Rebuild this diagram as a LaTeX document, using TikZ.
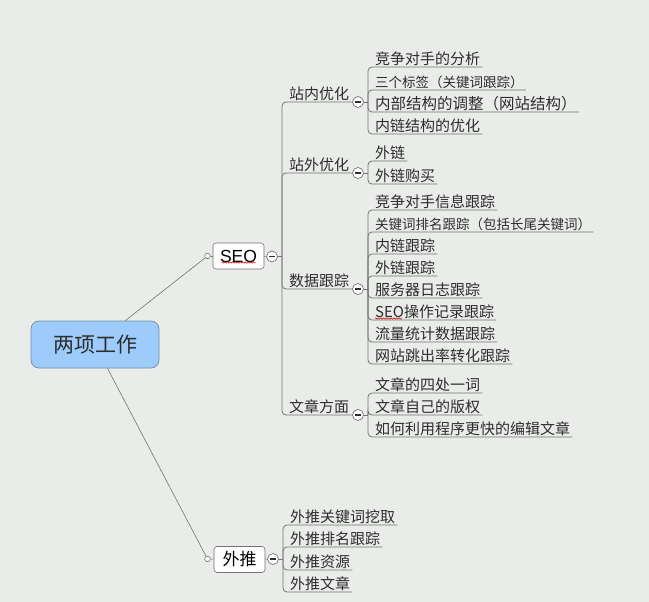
\documentclass[tikz,border=0pt]{standalone}
\usepackage{fontspec}
\setmainfont{Liberation Sans}
\newfontfamily\cjk{Noto Sans CJK SC}
\usetikzlibrary{calc,decorations.pathmorphing}
\definecolor{bg}{RGB}{233,236,233}
\definecolor{linec}{RGB}{115,115,115}
\definecolor{txt}{RGB}{45,45,45}
\definecolor{rootfill}{RGB}{157,204,250}
\definecolor{rootdraw}{RGB}{115,140,165}
\begin{document}
\begin{tikzpicture}[x=1pt,y=-1pt,
  conn/.style={draw=linec, line width=0.6pt},
  branch/.style={draw=linec, line width=0.8pt, rounded corners=4pt},
  leaf/.style={anchor=south west, inner xsep=2pt, inner ysep=2pt, text depth=0pt, font=\cjk\fontsize{15}{15}\selectfont, text=txt},
  small/.style={font=\cjk\fontsize{13.5}{13.5}\selectfont},
  minus/.style={circle, draw=linec, fill=white, minimum size=11pt, inner sep=0pt, line width=0.7pt,
    path picture={\draw[line width=1.5pt, txt] ([xshift=-2.7pt]path picture bounding box.center) -- ([xshift=2.7pt]path picture bounding box.center);}},
  dot/.style={circle, draw=linec, fill=white, minimum size=5.5pt, inner sep=0pt, line width=0.6pt},
  mainbox/.style={draw=linec, fill=white, rounded corners=3pt, minimum width=51pt, minimum height=26pt, inner sep=0pt, text=black, line width=0.6pt},
  rootbox/.style={draw=rootdraw, fill=rootfill, rounded corners=8pt, minimum width=128pt, minimum height=47pt, inner sep=0pt, font=\cjk\fontsize{21}{21}\selectfont, text=txt, line width=0.7pt},
  wavy/.style={draw=red!85!black, line width=0.5pt, decorate, decoration={snake, amplitude=0.7pt, segment length=2.6pt}},
]
\fill[bg] (0,0) rectangle (649,602);
\useasboundingbox (0,0) rectangle (649,602);

% root and main topics
\node[rootbox] (root) at (95,344.5) {两项工作};
\node[dot] (d1) at (207.5,256) {};
\node[mainbox, font=\fontsize{17.5}{17.5}\selectfont] (seo) at (238.5,256) {SEO};
\node[minus] (m0) at (272,256.5) {};
\coordinate (t0) at (282,256.5);
\node[dot] (d2) at (207.5,559) {};
\node[mainbox, font=\cjk\fontsize{17}{17}\selectfont] (wt) at (239.5,559.5) {外推};
\node[minus] (m5) at (273,559) {};
\coordinate (t5) at (283,559);

\draw[conn] (root) -- (d1);
\draw[conn] (root) -- (d2);
\draw[conn] (d1) -- (seo);
\draw[conn] (d2) -- (wt);
\draw[conn] (seo) -- (m0);
\draw[conn] (m0) -- (t0);
\draw[conn] (wt) -- (m5);
\draw[conn] (m5) -- (t5);

% level 2
\node[minus] (m1) at (358,102) {};
\node[leaf] (l1) at (287,102) {站内优化};
\node[minus] (m2) at (358,173) {};
\node[leaf] (l2) at (287,173) {站外优化};
\node[minus] (m3) at (358,289) {};
\node[leaf] (l3) at (287,289) {数据跟踪};
\node[minus] (m4) at (358,415) {};
\node[leaf] (l4) at (287,415) {文章方面};
\draw[branch] (t0) |- (m1.west);
\draw[branch] (t0) |- (m2.west);
\draw[branch] (t0) |- (m3.west);
\draw[branch] (t0) |- (m4.west);
\coordinate (t1) at (368,102);
\coordinate (t2) at (368,173);
\coordinate (t3) at (368,289);
\coordinate (t4) at (368,415);
\draw[conn] (m1) -- (t1);
\draw[conn] (m2) -- (t2);
\draw[conn] (m3) -- (t3);
\draw[conn] (m4) -- (t4);

% 站内优化
\node[leaf] (a1) at (373,67) {竞争对手的分析};
\node[leaf, small] (a2) at (373,90) {三个标签（关键词跟踪）};
\node[leaf, font=\cjk\fontsize{15.5}{15.5}\selectfont] (a3) at (373,112) {内部结构的调整（网站结构）};
\node[leaf] (a4) at (373,134) {内链结构的优化};
\foreach \n in {a1,a2,a3,a4} \draw[branch] (t1) |- (\n.south east);

% 站外优化
\node[leaf] (b1) at (373,161) {外链};
\node[leaf] (b2) at (373,184) {外链购买};
\foreach \n in {b1,b2} \draw[branch] (t2) |- (\n.south east);

% 数据跟踪
\node[leaf] (c1) at (373,210) {竞争对手信息跟踪};
\node[leaf, small] (c2) at (373,232) {关键词排名跟踪（包括长尾关键词）};
\node[leaf] (c3) at (373,254) {内链跟踪};
\node[leaf] (c4) at (373,276) {外链跟踪};
\node[leaf] (c5) at (373,298) {服务器日志跟踪};
\node[leaf] (c6) at (373,320) {SEO操作记录跟踪};
\node[leaf] (c7) at (373,342) {流量统计数据跟踪};
\node[leaf] (c8) at (373,364) {网站跳出率转化跟踪};
\foreach \n in {c1,c2,c3,c4,c5,c6,c7,c8} \draw[branch] (t3) |- (\n.south east);

% 文章方面
\node[leaf] (e1) at (373,393) {文章的四处一词};
\node[leaf] (e2) at (373,415) {文章自己的版权};
\node[leaf] (e3) at (373,437) {如何利用程序更快的编辑文章};
\foreach \n in {e1,e2,e3} \draw[branch] (t4) |- (\n.south east);

% 外推
\node[leaf] (f1) at (288,525) {外推关键词挖取};
\node[leaf] (f2) at (288,547) {外推排名跟踪};
\node[leaf] (f3) at (288,570) {外推资源};
\node[leaf] (f4) at (288,592) {外推文章};
\foreach \n in {f1,f2,f3,f4} \draw[branch] (t5) |- (\n.south east);

% spell-check marks
\draw[wavy] ([xshift=-17pt,yshift=-6.5pt]seo.center) -- ([xshift=17pt,yshift=-6.5pt]seo.center);
\draw[wavy] ([xshift=2pt,yshift=1.5pt]c6.south west) -- ([xshift=29pt,yshift=1.5pt]c6.south west);
\end{tikzpicture}
\end{document}
